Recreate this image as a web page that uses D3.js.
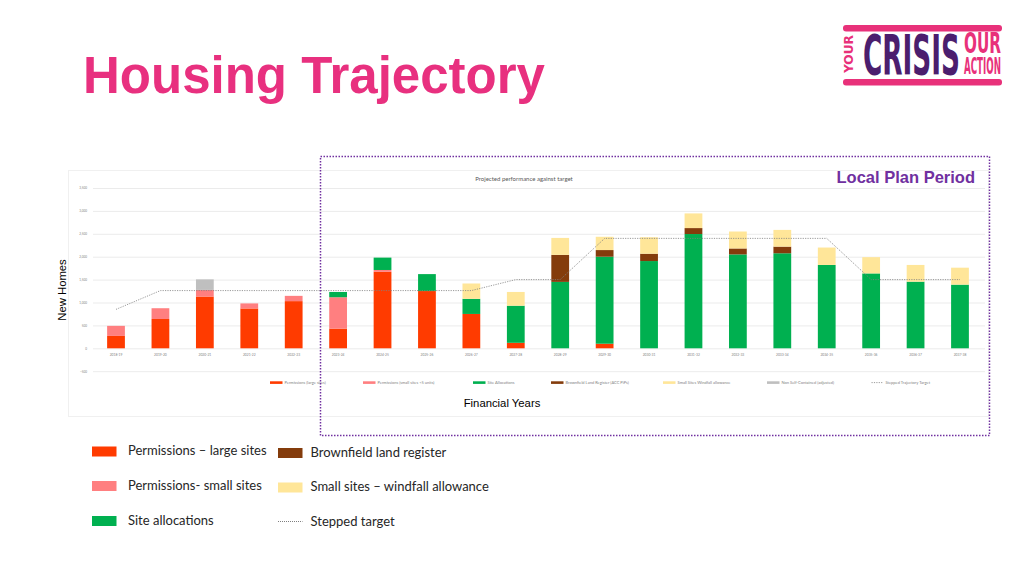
<!DOCTYPE html>
<html><head><meta charset="utf-8">
<script src="https://cdn.jsdelivr.net/npm/d3@7"></script>
<style>body{margin:0;background:#fff}svg{display:block}</style>
</head><body>
<svg id="c" width="1024" height="576"></svg>
<script>
const years = ["2018-19","2019-20","2020-21","2021-22","2022-23","2023-24","2024-25","2025-26","2026-27","2027-28","2028-29","2029-30","2030-31","2031-32","2032-33","2033-34","2034-35","2035-36","2036-37","2037-38"];
const permLarge  = [270,640,1130,870,1030,430,1670,1250,750,120,0,100,0,0,0,0,0,0,0,0];
const permSmall  = [220,235,145,110,115,685,40,0,0,0,0,0,0,0,0,0,0,0,0,0];
const siteAlloc  = [0,0,0,0,0,115,270,370,330,810,1450,1900,1905,2495,2050,2075,1820,1635,1455,1390];
const brownfield = [0,0,0,0,0,0,0,0,0,0,590,145,160,130,130,145,0,0,0,0];
const windfall   = [0,0,0,0,0,0,0,0,335,300,370,290,360,320,370,365,380,355,365,370];
const nonSelf    = [0,0,230,0,0,0,0,0,0,0,0,0,0,0,0,0,0,0,0,0];
const target     = [850,1260,1260,1260,1260,1260,1260,1260,1260,1500,1500,2400,2400,2400,2400,2400,2400,1500,1500,1500];
const yTicks = [-500,0,500,1000,1500,2000,2500,3000,3500];
const seriesKeys = ["permLarge","permSmall","siteAlloc","brownfield","windfall","nonSelf"];
const seriesNames = ["Permissions (large sites)","Permissions (small sites <5 units)","Site Allocations","Brownfield Land Register (ACC PiPs)","Small Sites Windfall allowance","Non Self-Contained (adjusted)"];
const targetName = "Stepped Trajectory Target";
const colors = {permLarge:"#ff3b00",permSmall:"#ff7f80",siteAlloc:"#00b050",brownfield:"#843c0c",windfall:"#ffe699",nonSelf:"#bfbfbf"};
const legendLabels = [["Permissions \u2013 large sites","permLarge"],["Permissions- small sites","permSmall"],["Site allocations","siteAlloc"]];
const legendLabels2 = [["Brownfield land register","brownfield"],["Small sites \u2013 windfall allowance","windfall"],["Stepped target","target"]];

const svg = d3.select("#c");
const pink = "#e8307f", purple = "#7030a0";

// Title
svg.append("text").attr("x",83).attr("y",92.5).attr("font-family","Liberation Sans, Arial, sans-serif")
  .attr("font-weight","bold").attr("font-size",51).attr("fill",pink).text("Housing Trajectory");

// Logo: text squeezed horizontally to fit a target width
const logo = svg.append("g").attr("font-family","DejaVu Sans Condensed, DejaVu Sans, sans-serif").attr("font-weight","bold");
logo.append("rect").attr("x",843).attr("y",25).attr("width",159).attr("height",6.5).attr("rx",3).attr("fill","#e8317a");
logo.append("rect").attr("x",843).attr("y",79).attr("width",159).attr("height",6.5).attr("rx",3).attr("fill","#e8317a");
function fitText(txt, tx, ty, size, width, fill, rot){
  const g = logo.append("g");
  const t = g.append("text").attr("font-size",size).attr("fill",fill).text(txt);
  const w = t.node().getComputedTextLength();
  const s = width / w;
  g.attr("transform",`translate(${tx},${ty})` + (rot?" rotate(-90)":"") + ` scale(${s},1)`);
}
fitText("YOUR",853,73,12.5,38,"#e8317a",true);
fitText("CRISIS",863,73.5,55,97,"#4b1e6e",false);
fitText("OUR",964,53,27.5,37,"#e8317a",false);
fitText("ACTION",964,73.5,23,37,"#e8317a",false);

// Chart panel
svg.append("rect").attr("x",68.5).attr("y",170.5).attr("width",920).attr("height",246).attr("fill","#fff").attr("stroke","#f0f0f0").attr("stroke-width",1);

const x = d3.scaleBand().domain(years).range([93.8,982.2]).paddingInner(0.6).paddingOuter(0.3);
const y = d3.scaleLinear().domain([-500,3500]).range([371.2,188.0]);

const inner = svg.append("g").attr("font-family","Lato, Open Sans, sans-serif");
inner.append("text").attr("x",524).attr("y",181).attr("text-anchor","middle").attr("font-size",6).attr("fill","#595959").text("Projected performance against target");

// gridlines + y axis
const yAxis = d3.axisLeft(y).tickValues(yTicks).tickSize(-(985-93)).tickPadding(6);
const ga = inner.append("g").attr("transform","translate(93,0)").call(yAxis);
ga.select(".domain").remove();
ga.selectAll(".tick line").attr("stroke","#e6e6e6").attr("stroke-width",0.8);
ga.selectAll(".tick text").attr("font-size",3).attr("fill","#7f7f7f").attr("font-family","Lato, sans-serif");

// x axis labels
const xa = inner.append("g").attr("transform",`translate(0,${y(0)})`).call(d3.axisBottom(x).tickSize(0).tickPadding(5));
xa.select(".domain").remove();
xa.selectAll(".tick text").attr("font-size",3.3).attr("fill","#7f7f7f").attr("font-family","Lato, sans-serif");

// stacked bars
const rows = years.map((yr,i)=>({year:yr,permLarge:permLarge[i],permSmall:permSmall[i],siteAlloc:siteAlloc[i],brownfield:brownfield[i],windfall:windfall[i],nonSelf:nonSelf[i]}));
const stack = d3.stack().keys(seriesKeys)(rows);
inner.append("g").selectAll("g").data(stack).join("g").attr("fill",d=>colors[d.key])
  .selectAll("rect").data(d=>d.filter(s=>s[1]-s[0]>0)).join("rect")
  .attr("x",d=>x(d.data.year)).attr("width",x.bandwidth())
  .attr("y",d=>y(d[1])).attr("height",d=>y(d[0])-y(d[1]));

// target line
const line = d3.line().x((d,i)=>x(years[i])+x.bandwidth()/2).y(d=>y(d));
inner.append("path").datum(target).attr("d",line).attr("fill","none").attr("stroke","#808080")
  .attr("stroke-width",0.8).attr("stroke-dasharray","1.2,1.2");

// inner legend
const legX = [270,363,473,551,663,767];
const lg = inner.append("g");
seriesKeys.forEach((k,i)=>{
  lg.append("rect").attr("x",legX[i]).attr("y",381.3).attr("width",12.5).attr("height",2.6).attr("fill",colors[k]);
  lg.append("text").attr("x",legX[i]+14.5).attr("y",384).attr("font-size",4).attr("fill","#7f7f7f").text(seriesNames[i]);
});
lg.append("line").attr("x1",871.5).attr("x2",883).attr("y1",382.6).attr("y2",382.6).attr("stroke","#808080").attr("stroke-width",0.8).attr("stroke-dasharray","1.2,1.2");
lg.append("text").attr("x",885.5).attr("y",384).attr("font-size",4).attr("fill","#7f7f7f").text(targetName);

// axis titles
svg.append("text").attr("transform","translate(66,290) rotate(-90)").attr("text-anchor","middle")
  .attr("font-family","Liberation Sans, Arial, sans-serif").attr("font-size",11.3).attr("fill","#000").text("New Homes");
svg.append("text").attr("x",502).attr("y",407).attr("text-anchor","middle")
  .attr("font-family","Liberation Sans, Arial, sans-serif").attr("font-size",11.3).attr("fill","#000").text("Financial Years");

// Local plan period box
svg.append("rect").attr("x",320.5).attr("y",156.5).attr("width",669).attr("height",279).attr("fill","none")
  .attr("stroke",purple).attr("stroke-width",1.5).attr("stroke-dasharray","1.5,1.5");
svg.append("text").attr("x",975).attr("y",183).attr("text-anchor","end").attr("font-family","Liberation Sans, Arial, sans-serif")
  .attr("font-weight","bold").attr("font-size",16.5).attr("fill",purple).text("Local Plan Period");

// bottom legend
const bl = svg.append("g").attr("font-family","Lato, Open Sans, sans-serif").attr("font-size",13).attr("fill","#262626");
const rowY = [451.5,486,521];
legendLabels.forEach(([t,k],i)=>{
  bl.append("rect").attr("x",92).attr("y",rowY[i]-5).attr("width",24.5).attr("height",10).attr("fill",colors[k]);
  bl.append("text").attr("x",128).attr("y",rowY[i]+3.6).text(t);
});
legendLabels2.forEach(([t,k],i)=>{
  const yy = rowY[i]+1.5;
  if(k==="target"){
    bl.append("line").attr("x1",278).attr("x2",302.5).attr("y1",yy-1).attr("y2",yy-1).attr("stroke","#7f7f7f").attr("stroke-width",1).attr("stroke-dasharray","1,1");
  } else {
    bl.append("rect").attr("x",278).attr("y",yy-5).attr("width",24.5).attr("height",10).attr("fill",colors[k]);
  }
  bl.append("text").attr("x",310.5).attr("y",yy+3.6).text(t);
});
</script>
</body></html>
